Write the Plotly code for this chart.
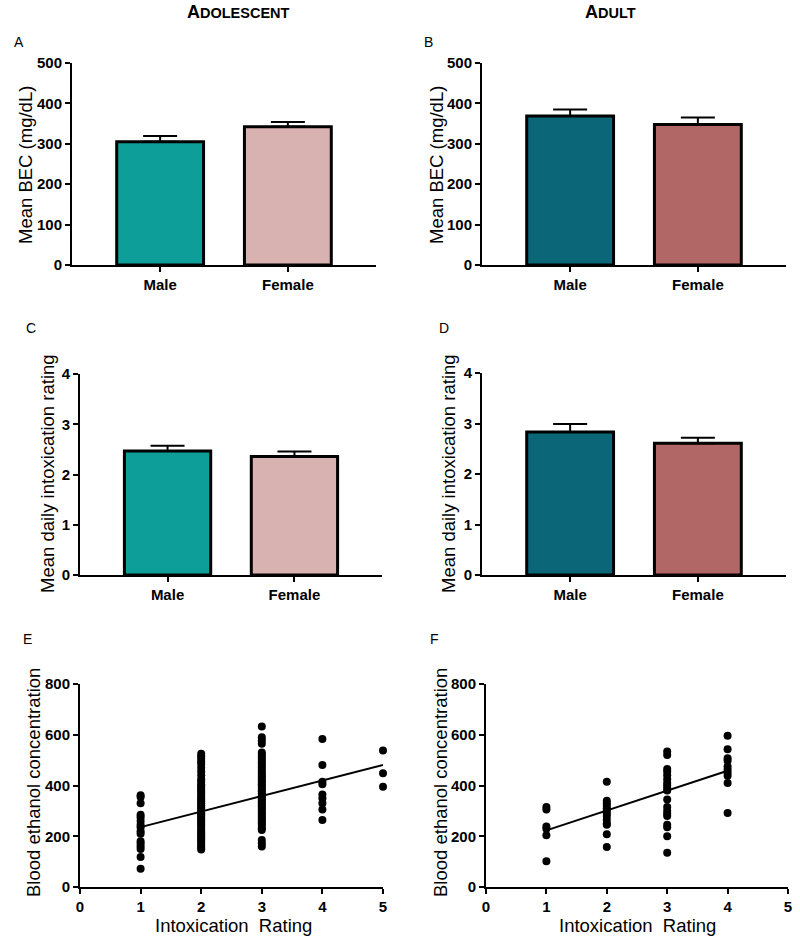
import plotly.graph_objects as go

W, H = 800, 945

# ---------------- data ----------------
categories = ["Male", "Female"]

bec_adolescent = [305, 342]
bec_adolescent_sem = [14, 12]
bec_adult = [369, 348]
bec_adult_sem = [16, 17]

intox_adolescent = [2.47, 2.36]
intox_adolescent_sem = [0.10, 0.10]
intox_adult = [2.83, 2.61]
intox_adult_sem = [0.16, 0.11]

colors_adolescent = ["#0d9e9a", "#d8b2b1"]
colors_adult = ["#0b6678", "#b26767"]

# Panel E (adolescent): BEC by intoxication rating
adol_r1 = [362, 355, 330, 285, 275, 260, 245, 235, 220, 210, 180, 170, 160, 150, 118, 72]
adol_r2 = [525, 515, 505, 495, 485, 470, 455, 440, 425, 415, 405, 398, 390, 382, 375,
           368, 360, 352, 345, 338, 330, 322, 315, 308, 300, 293, 287, 280, 273, 266,
           260, 252, 245, 238, 230, 222, 215, 207, 200, 192, 185, 178, 170, 162, 155, 148]
adol_r3 = [633, 590, 578, 565, 530, 522, 512, 505, 495, 487, 478, 470, 460, 450, 442,
           435, 427, 420, 412, 405, 398, 390, 382, 375, 368, 360, 352, 345, 338, 330,
           322, 315, 308, 300, 292, 285, 278, 270, 262, 255, 248, 240, 232, 225, 185, 172, 160]
adol_r4 = [583, 481, 415, 405, 365, 350, 330, 305, 264]
adol_r5 = [538, 448, 395]
adol_fit_x = [1, 5]
adol_fit_y = [236, 481]

# Panel F (adult)
adult_r1 = [315, 305, 238, 230, 204, 101]
adult_r2 = [415, 340, 330, 320, 310, 300, 290, 280, 265, 250, 245, 208, 158]
adult_r3 = [534, 520, 465, 455, 440, 425, 410, 400, 390, 380, 345, 315, 300, 290, 280,
            245, 235, 200, 135]
adult_r4 = [596, 543, 507, 498, 475, 462, 450, 438, 410, 292]
adult_fit_x = [1, 4]
adult_fit_y = [223, 458]

rating_ticks = [0, 1, 2, 3, 4, 5]

FONT = "Liberation Sans, Arial, sans-serif"


def px(p):
    return p / W


def py(p):
    return 1 - p / H


def xdom(a, b):
    return [px(a), px(b)]


def ydom(top, bot):
    return [py(bot), py(top)]


fig = go.Figure()

axis_common = dict(showline=True, linecolor="black", linewidth=2, ticks="outside",
                   ticklen=5, tickwidth=2, tickcolor="black", showgrid=False,
                   zeroline=False, automargin=False,
                   tickfont=dict(family=FONT, size=15, color="black", weight="bold"))

panels = [
    ("A", (72, 376), (63, 265)),
    ("B", (482, 786), (63, 265)),
    ("C", (80, 382), (374, 575)),
    ("D", (482, 786), (373, 575)),
    ("E", (80, 383), (684, 887)),
    ("F", (486, 788), (684, 887)),
]

layout = {}
for i, (name, (x0, x1), (y0, y1)) in enumerate(panels):
    n = "" if i == 0 else str(i + 1)
    layout["xaxis" + n] = dict(domain=xdom(x0, x1), anchor="y" + n, **axis_common)
    layout["yaxis" + n] = dict(domain=ydom(y0, y1), anchor="x" + n, **axis_common)


def add_bars(idx, vals, sems, colors):
    n = "" if idx == 0 else str(idx + 1)
    fig.add_trace(go.Bar(
        x=categories, y=vals, xaxis="x" + n, yaxis="y" + n, width=0.68,
        marker=dict(color=colors, line=dict(color="black", width=3)),
        error_y=dict(type="data", symmetric=False, array=sems,
                     arrayminus=[0] * len(sems), color="black", thickness=2, width=17),
        showlegend=False))


add_bars(0, bec_adolescent, bec_adolescent_sem, colors_adolescent)
add_bars(1, bec_adult, bec_adult_sem, colors_adult)
add_bars(2, intox_adolescent, intox_adolescent_sem, colors_adolescent)
add_bars(3, intox_adult, intox_adult_sem, colors_adult)


def add_scatter(idx, groups, fx, fy):
    n = str(idx + 1)
    xs, ys = [], []
    for rating, vals in groups:
        xs += [rating] * len(vals)
        ys += vals
    fig.add_trace(go.Scatter(x=xs, y=ys, mode="markers", xaxis="x" + n, yaxis="y" + n,
                             marker=dict(color="black", size=8), cliponaxis=False,
                             showlegend=False))
    fig.add_trace(go.Scatter(x=fx, y=fy, mode="lines", xaxis="x" + n, yaxis="y" + n,
                             line=dict(color="black", width=2), showlegend=False))


add_scatter(4, [(1, adol_r1), (2, adol_r2), (3, adol_r3), (4, adol_r4), (5, adol_r5)],
            adol_fit_x, adol_fit_y)
add_scatter(5, [(1, adult_r1), (2, adult_r2), (3, adult_r3), (4, adult_r4)],
            adult_fit_x, adult_fit_y)

for n, rng, step in [("", [0, 500], 100), ("2", [0, 500], 100),
                     ("3", [0, 4], 1), ("4", [0, 4], 1)]:
    layout["xaxis" + n].update(range=[-0.69, 1.69], type="category")
    layout["yaxis" + n].update(range=rng, dtick=step, tick0=0)
for n in ["5", "6"]:
    layout["xaxis" + n].update(range=[0, 5], tickvals=rating_ticks)
    layout["yaxis" + n].update(range=[0, 800], dtick=200, tick0=0)


def ann(text, x, y, size, angle=0, bold=False):
    return dict(text=text, x=px(x), y=py(y), xref="paper", yref="paper",
                showarrow=False, xanchor="center", yanchor="middle", textangle=angle,
                font=dict(family=FONT, size=size, color="black",
                          weight="bold" if bold else "normal"))


annotations = [
    ann("A<span style='font-size:14.5px'>DOLESCENT</span>", 238, 12, 18, bold=True),
    ann("A<span style='font-size:14.5px'>DULT</span>", 610, 12, 18, bold=True),
    ann("A", 18.5, 42, 14), ann("B", 428, 42, 14),
    ann("C", 31, 328, 14), ann("D", 444, 328, 14),
    ann("E", 27, 639, 14), ann("F", 435, 639, 14),
    ann("Mean BEC (mg/dL)", 25, 165, 18.5, angle=-90),
    ann("Mean BEC (mg/dL)", 436, 165, 18.5, angle=-90),
    ann("Mean daily intoxication rating", 47, 474, 18.5, angle=-90),
    ann("Mean daily intoxication rating", 448, 474, 18.5, angle=-90),
    ann("Blood ethanol concentration", 33, 783, 18.5, angle=-90),
    ann("Blood ethanol concentration", 440, 783, 18.5, angle=-90),
    ann("Intoxication\u00a0 Rating", 233, 925, 18.5),
    ann("Intoxication\u00a0 Rating", 637, 925, 18.5),
]

fig.update_layout(width=W, height=H, margin=dict(l=0, r=0, t=0, b=0, autoexpand=False),
                  paper_bgcolor="white", plot_bgcolor="white",
                  annotations=annotations, bargap=0, **layout)

# remove the default 8px body margin so the figure sits at the page origin
fig.write_html("out.html",
               config={"displayModeBar": False, "staticPlot": True},
               post_script="document.body.style.margin='0';document.body.style.overflow='hidden';")
